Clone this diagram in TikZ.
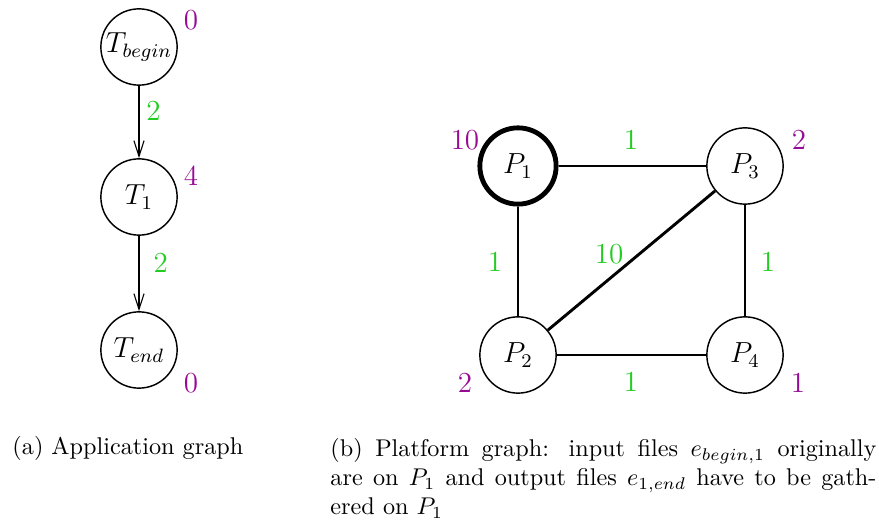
\documentclass[tikz,border=0pt]{standalone}
\usetikzlibrary{arrows.meta}
\definecolor{wgreen}{RGB}{34,204,34}
\definecolor{wpurple}{RGB}{150,10,150}
\begin{document}
\begin{tikzpicture}[x=0.413pt,y=-0.413pt,
  vtx/.style={circle,draw,line width=0.6pt,minimum size=31.5pt,inner sep=0pt,font=\large},
  cost/.style={text=wpurple,font=\large,inner sep=0pt},
  wt/.style={text=wgreen,font=\large,inner sep=0pt},
  arr/.style={line width=0.45pt,-{Straight Barb[length=6.5pt,width=4.2pt]}},
  link/.style={line width=1.2pt},
  captext/.style={inner sep=0pt,font=\normalsize}]
\useasboundingbox (0,0) rectangle (879,525);
% application graph
\node[vtx] (tb) at (139,47) {$T_{begin}$};
\node[vtx] (t1) at (139,197) {$T_1$};
\node[vtx] (te) at (139,350) {$T_{end}$};
\node[cost] (ctb) at (191,20) {0};
\node[cost] (ct1) at (191,176) {4};
\node[cost] (cte) at (191,383) {0};
\draw[arr] (tb) -- (t1) node[wt,pos=0.35,xshift=6pt] (w1) {2};
\draw[arr] (t1) -- (te) node[wt,pos=0.36,xshift=9pt] (w2) {2};
% platform graph
\node[vtx,line width=2pt] (p1) at (518,166) {$P_1$};
\node[vtx] (p3) at (745,166) {$P_3$};
\node[vtx] (p2) at (518,355) {$P_2$};
\node[vtx] (p4) at (745,355) {$P_4$};
\node[cost] (cp1) at (465,140) {10};
\node[cost] (cp3) at (799,140) {2};
\node[cost] (cp2) at (465,383) {2};
\node[cost] (cp4) at (798,383) {1};
\draw[link] (p1) -- (p3);
\draw[link] (p1) -- (p2);
\draw[link] (p2) -- (p3);
\draw[link] (p3) -- (p4);
\draw[link] (p2) -- (p4);
\node[wt] (w13) at (631,140) {1};
\node[wt] (w12) at (495,262) {1};
\node[wt] (w23) at (609,254) {10};
\node[wt] (w34) at (768,262) {1};
\node[wt] (w24) at (631,382) {1};
% captions
\node[captext,anchor=base west] (capa) at (12,455) {(a) Application graph};
\node[captext,anchor=north west,text width=225.5pt,align=justify] (capb) at (330,438)
  {(b) Platform graph: input files $e_{begin,1}$ originally\linebreak are on $P_1$ and output files $e_{1,end}$ have to be gath-\linebreak ered on $P_1$};
\end{tikzpicture}
\end{document}
